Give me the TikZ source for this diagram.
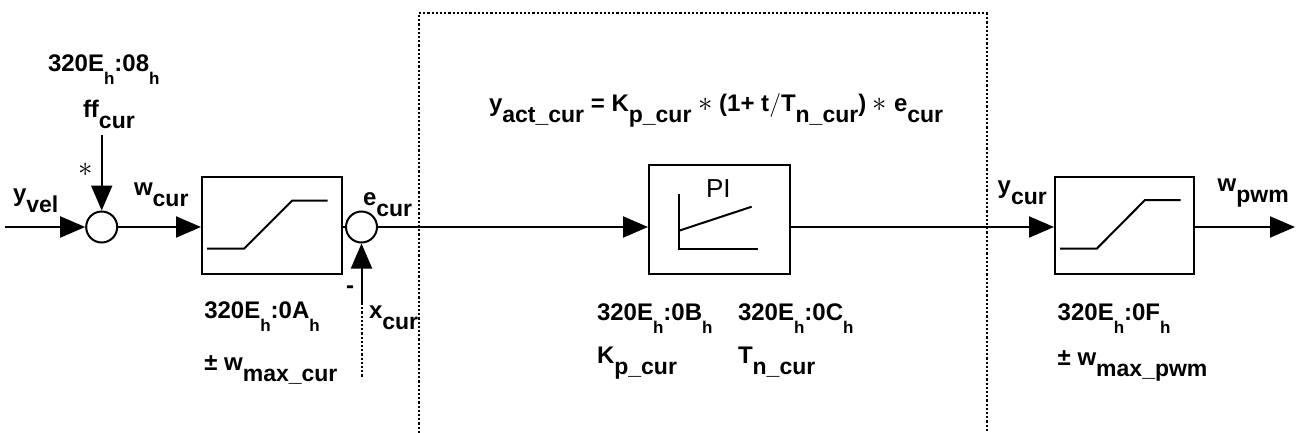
\documentclass[tikz,border=0pt]{standalone}
\usepackage{fontspec}
\setmainfont{Liberation Sans}
\usetikzlibrary{arrows.meta}
\newcommand\sbs[1]{\raisebox{-5.5pt}{\fontsize{11.5}{11.5}\selectfont #1}}
\newcommand\hsb{\raisebox{-6.5pt}{\fontsize{8.5}{8.5}\selectfont h}}
\newcommand\myast{{\fontsize{14}{14}\selectfont$\ast$}}
\begin{document}
\begin{tikzpicture}[x=0.5pt,y=-0.5pt,line width=1pt,
  font=\bfseries\fontsize{12}{14}\selectfont,
  arr/.style={-{Triangle[length=12.5pt,width=10.5pt]}},
  blk/.style={draw,line width=1pt,inner sep=0pt,anchor=north west},
  sumc/.style={draw,circle,minimum size=15.5pt,inner sep=0pt,line width=1pt},
  lbl/.style={anchor=base west,inner sep=0pt},
  dotline/.style={line width=1pt,dash pattern=on 1.1pt off 1pt}]
\useasboundingbox (0,0) rectangle (1299,433);
% dotted frame
\draw[dotline] (418.5,433) -- (418.5,13.5) -- (986.5,13.5) -- (986.5,433);
% blocks
\node[blk,minimum width=70pt,minimum height=48.5pt] (sat1) at (201,176) {};
\node[blk,minimum width=70.5pt,minimum height=54.5pt] (pi) at (648,164) {};
\node[blk,minimum width=69.5pt,minimum height=48.5pt] (sat3) at (1054,176) {};
\node[sumc] (sum1) at (101.7,227) {};
\node[sumc] (sum2) at (361.5,227) {};
% block contents
\draw (207,248.7) -- (244,248.7) -- (292,200.7) -- (327.7,200.7);
\draw (1060,248.7) -- (1096.7,248.7) -- (1145,200) -- (1180.7,200);
\draw (679,194.3) -- (679,249) -- (757.7,249);
\draw (679,230.7) -- (751.7,206.7);
\node[font=\fontsize{13}{14}\selectfont,inner sep=0pt] (pit) at (718.3,188.3) {PI};
% connectors
\coordinate (in) at (5,227);
\coordinate (ffc) at (101.7,135);
\coordinate (out) at (1295,227);
\coordinate (xc) at (361.5,303);
\coordinate (xd) at (361.5,377);
\draw[arr] (in) -- (sum1);
\draw[arr] (ffc) -- (sum1);
\draw[arr] (sum1) -- (sum1 -| sat1.west);
\draw (sat1.east |- sum2) -- (sum2);
\draw[arr] (sum2) -- (sum2 -| pi.west);
\draw[arr] (pi.east |- sum2) -- (sum2 -| sat3.west);
\draw[arr] (sat3.east |- out) -- (out);
\draw[arr] (xc) -- (sum2);
\draw[dotline] (xc) -- (xd);
% labels
\node[lbl] (l08) at (47,71.7) {320E\hsb:08\hsb};
\node[lbl] (lff) at (82,118) {ff\sbs{cur}};
\node[inner sep=0pt,font=\fontsize{15}{15}\selectfont] (last) at (86,170) {$\ast$};
\node[lbl] (lyvel) at (12,201.7) {y\sbs{vel}};
\node[lbl] (lwcur) at (133,195) {w\sbs{cur}};
\node[lbl] (lecur) at (362,205) {e\sbs{cur}};
\node[lbl] (lminus) at (345,293) {-};
\node[lbl] (lxcur) at (368,318) {x\sbs{cur}};
\node[lbl] (l0a) at (203.3,318.3) {320E\hsb:0A\hsb};
\node[lbl] (lwmc) at (203.3,370) {\textpm{} w\sbs{max\_cur}};
\node[lbl] (lform) at (488,112) {y\sbs{act\_cur} = K\sbs{p\_cur} \myast{} (1+ t$/$T\sbs{n\_cur}) \myast{} e\sbs{cur}};
\node[lbl] (l0b) at (596,320) {320E\hsb:0B\hsb};
\node[lbl] (l0c) at (737,320) {320E\hsb:0C\hsb};
\node[lbl] (lkp) at (596,363) {K\sbs{p\_cur}};
\node[lbl] (ltn) at (737,363) {T\sbs{n\_cur}};
\node[lbl] (lycur) at (996.7,193.3) {y\sbs{cur}};
\node[lbl] (lwpwm) at (1216.7,191.7) {w\sbs{pwm}};
\node[lbl] (l0f) at (1056.7,320) {320E\hsb:0F\hsb};
\node[lbl] (lwmp) at (1056.7,365) {\textpm{} w\sbs{max\_pwm}};
\end{tikzpicture}
\end{document}
